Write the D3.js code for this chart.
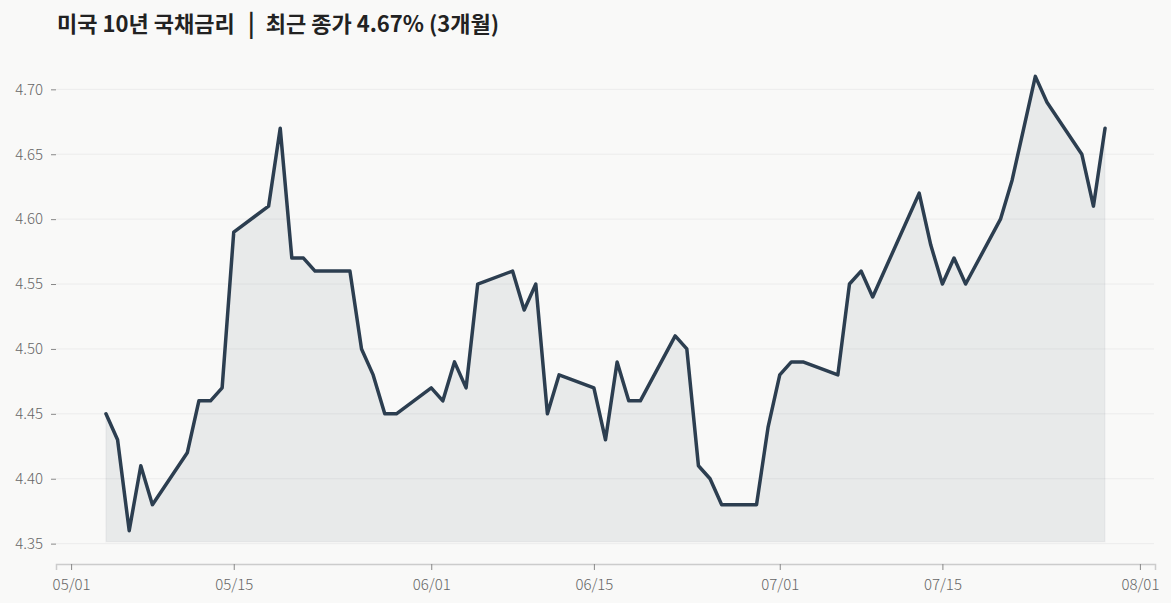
<!DOCTYPE html>
<html>
<head>
<meta charset="utf-8">
<script src="https://cdn.jsdelivr.net/npm/d3@7"></script>
<style>
  html, body { margin: 0; padding: 0; background: #f9f9f8; }
  svg { display: block; }
  .axis text { font-family: "Noto Sans CJK KR", "Noto Sans", sans-serif; font-weight: 300; }
</style>
</head>
<body>
<svg id="chart" width="1171" height="603"></svg>
<script>
const titleMain = "미국 10년 국채금리";
const titleSep = "|";
const titleSub = "최근 종가 4.67% (3개월)";

const dates = [
  "2026-05-04","2026-05-05","2026-05-06","2026-05-07","2026-05-08",
  "2026-05-11","2026-05-12","2026-05-13","2026-05-14","2026-05-15",
  "2026-05-18","2026-05-19","2026-05-20","2026-05-21","2026-05-22",
  "2026-05-25","2026-05-26","2026-05-27","2026-05-28","2026-05-29",
  "2026-06-01","2026-06-02","2026-06-03","2026-06-04","2026-06-05",
  "2026-06-08","2026-06-09","2026-06-10","2026-06-11","2026-06-12",
  "2026-06-15","2026-06-16","2026-06-17","2026-06-18","2026-06-19",
  "2026-06-22","2026-06-23","2026-06-24","2026-06-25","2026-06-26",
  "2026-06-29","2026-06-30","2026-07-01","2026-07-02","2026-07-03",
  "2026-07-06","2026-07-07","2026-07-08","2026-07-09","2026-07-10",
  "2026-07-13","2026-07-14","2026-07-15","2026-07-16","2026-07-17",
  "2026-07-20","2026-07-21","2026-07-22","2026-07-23","2026-07-24",
  "2026-07-27","2026-07-28","2026-07-29"
];

const yields = [
  4.45, 4.43, 4.36, 4.41, 4.38,
  4.42, 4.46, 4.46, 4.47, 4.59,
  4.61, 4.67, 4.57, 4.57, 4.56,
  4.56, 4.50, 4.48, 4.45, 4.45,
  4.47, 4.46, 4.49, 4.47, 4.55,
  4.56, 4.53, 4.55, 4.45, 4.48,
  4.47, 4.43, 4.49, 4.46, 4.46,
  4.51, 4.50, 4.41, 4.40, 4.38,
  4.38, 4.44, 4.48, 4.49, 4.49,
  4.48, 4.55, 4.56, 4.54, 4.56,
  4.62, 4.58, 4.55, 4.57, 4.55,
  4.60, 4.63, 4.67, 4.71, 4.69,
  4.65, 4.61, 4.67
];

const xTickDates = ["2026-05-01","2026-05-15","2026-06-01","2026-06-15","2026-07-01","2026-07-15","2026-08-01"];
const yTickValues = [4.35, 4.40, 4.45, 4.50, 4.55, 4.60, 4.65, 4.70];

const parse = d3.timeParse("%Y-%m-%d");
const data = dates.map((d, i) => ({ date: parse(d), value: yields[i] }));

const svg = d3.select("#chart");
const W = 1171, H = 603;
const mLeft = 56, mRight = 1155, mTop = 43, mBottom = 564;

svg.append("rect").attr("width", W).attr("height", H).attr("fill", "#f9f9f8");

// x scale with 5% padding on each side
const xExt = d3.extent(data, d => d.date);
const span = xExt[1] - xExt[0];
const x = d3.scaleTime()
  .domain([new Date(+xExt[0] - span * 0.05), new Date(+xExt[1] + span * 0.05)])
  .range([mLeft, mRight]);

const yMin = d3.min(yields), yMax = d3.max(yields);
const yPad = 0.0257;
const y = d3.scaleLinear()
  .domain([yMin - yPad, yMax + yPad])
  .range([mBottom, mTop]);

// grid lines
svg.append("g")
  .selectAll("line")
  .data(yTickValues)
  .join("line")
  .attr("x1", mLeft).attr("x2", mRight - 1)
  .attr("y1", d => y(d)).attr("y2", d => y(d))
  .attr("stroke", "#ececec")
  .attr("stroke-width", 1);

// area
const baseValue = 4.3515;
const area = d3.area()
  .x(d => x(d.date))
  .y0(y(baseValue))
  .y1(d => y(d.value));

svg.append("path")
  .datum(data)
  .attr("d", area)
  .attr("fill", "#2c3e50")
  .attr("fill-opacity", 0.08)
  .attr("stroke", "#2c3e50")
  .attr("stroke-opacity", 0.04)
  .attr("stroke-width", 1.5);

// line
const line = d3.line()
  .x(d => x(d.date))
  .y(d => y(d.value));

svg.append("path")
  .datum(data)
  .attr("d", line)
  .attr("fill", "none")
  .attr("stroke", "#2c3e50")
  .attr("stroke-width", 3.5)
  .attr("stroke-linejoin", "round")
  .attr("stroke-linecap", "round");

// y axis
const yAxis = svg.append("g")
  .attr("class", "axis")
  .attr("transform", `translate(${mLeft},0)`)
  .call(d3.axisLeft(y).tickValues(yTickValues).tickFormat(d3.format(".2f")).tickSize(5).tickPadding(8));
yAxis.select(".domain").remove();
yAxis.selectAll(".tick line").attr("stroke", "#888");
yAxis.selectAll("text").attr("fill", "#666").attr("font-size", 15);

// x axis
const xAxis = svg.append("g")
  .attr("class", "axis")
  .attr("transform", `translate(0,${mBottom})`)
  .call(d3.axisBottom(x).tickValues(xTickDates.map(parse)).tickFormat(d3.timeFormat("%m/%d")).tickSize(6).tickPadding(9));
xAxis.select(".domain").attr("stroke", "#ccc").attr("stroke-width", 1.5);
xAxis.selectAll(".tick line").attr("stroke", "#888");
xAxis.selectAll("text").attr("fill", "#666").attr("font-size", 15);

// title
const title = svg.append("text")
  .attr("x", 57)
  .attr("y", 32)
  .attr("font-family", "'Noto Sans CJK KR', sans-serif")
  .attr("font-weight", 700)
  .attr("font-size", 22)
  .attr("fill", "#222");
title.append("tspan").text(titleMain);
title.append("tspan").attr("dx", 13).attr("font-size", 24).text(titleSep);
title.append("tspan").attr("dx", 11).text(titleSub);
</script>
</body>
</html>
